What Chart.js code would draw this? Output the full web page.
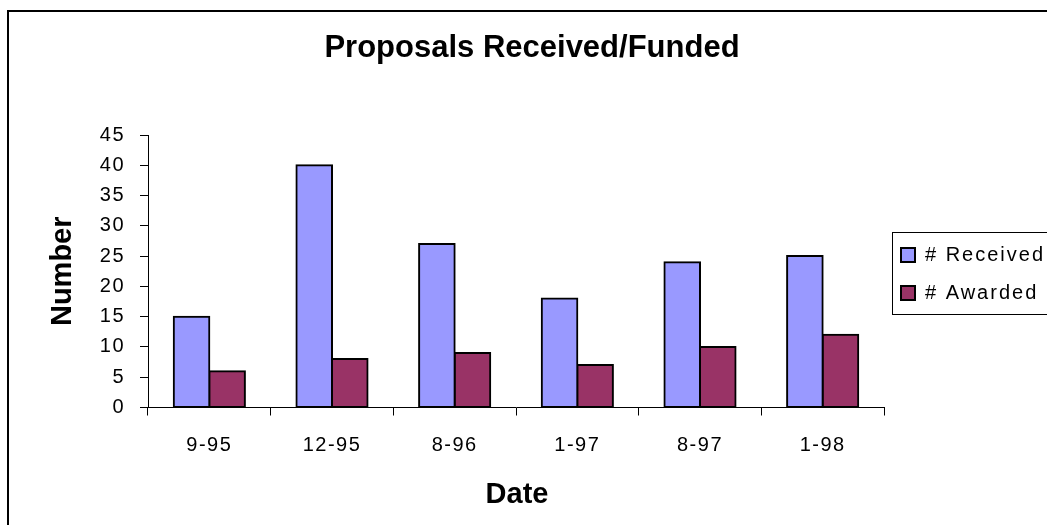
<!DOCTYPE html>
<html>
<head>
<meta charset="utf-8">
<title>Proposals Received/Funded</title>
<script src="https://cdn.jsdelivr.net/npm/chart.js@4.4.1/dist/chart.umd.min.js"></script>
<style>
  html, body { margin: 0; padding: 0; background: #fff; }
  #wrap { position: relative; width: 1047px; height: 525px; }
</style>
</head>
<body>
<div id="wrap"><canvas id="proposalsChart"></canvas></div>
<script>
const dates = ['9-95', '12-95', '8-96', '1-97', '8-97', '1-98'];
const received = [15, 40, 27, 18, 24, 25];
const awarded = [6, 8, 9, 7, 10, 12];
const yTicks = [0, 5, 10, 15, 20, 25, 30, 35, 40, 45];

const FONT = "'Liberation Sans', Arial, sans-serif";

// frame, titles and the boxed legend on the right
const decor = {
    id: 'decor',
    beforeDraw(chart) {
        chart.ctx.letterSpacing = '1.5px';
    },
    afterDraw(chart) {
        const ctx = chart.ctx;
        const area = chart.chartArea;
        ctx.save();
        ctx.letterSpacing = '0px';

        // outer border
        ctx.strokeStyle = '#000';
        ctx.lineWidth = 2;
        ctx.strokeRect(8, 11, 1100, 600);

        ctx.fillStyle = '#000';
        ctx.textAlign = 'center';
        ctx.textBaseline = 'middle';
        ctx.font = 'bold 31px ' + FONT;
        ctx.fillText('Proposals Received/Funded', 532, 48);

        ctx.font = 'bold 29px ' + FONT;
        ctx.fillText('Date', 517, 495);

        ctx.save();
        ctx.translate(63, (area.top + area.bottom) / 2);
        ctx.rotate(-Math.PI / 2);
        ctx.fillText('Number', 0, 0);
        ctx.restore();

        // legend
        ctx.lineWidth = 1;
        ctx.strokeStyle = '#000';
        ctx.strokeRect(892.5, 232.5, 200, 82);
        ctx.font = '20px ' + FONT;
        ctx.letterSpacing = '2px';
        ctx.textAlign = 'left';
        const rows = [255, 293];
        chart.data.datasets.forEach((ds, i) => {
            const y = rows[i];
            ctx.fillStyle = ds.backgroundColor;
            ctx.fillRect(901, y - 7, 14, 14);
            ctx.lineWidth = 2;
            ctx.strokeRect(901, y - 7, 14, 14);
            ctx.fillStyle = '#000';
            ctx.fillText(ds.label, 925, y);
        });
        ctx.restore();
    }
};

new Chart(document.getElementById('proposalsChart'), {
    type: 'bar',
    data: {
        labels: dates,
        datasets: [
            { label: '# Received', data: received, backgroundColor: '#9999FF' },
            { label: '# Awarded', data: awarded, backgroundColor: '#993366' }
        ]
    },
    options: {
        responsive: true,
        maintainAspectRatio: false,
        animation: false,
        devicePixelRatio: 1,
        layout: { padding: { top: 135, left: 0, right: 163, bottom: 0 } },
        datasets: {
            bar: {
                categoryPercentage: 0.58,
                barPercentage: 1,
                borderColor: '#000',
                borderWidth: 2,
                borderSkipped: false,
                inflateAmount: 1
            }
        },
        plugins: { legend: { display: false }, title: { display: false }, tooltip: { enabled: false } },
        scales: {
            x: {
                grid: { offset: true, drawOnChartArea: false, drawTicks: true, tickLength: 8, color: '#000' },
                border: { display: true, color: '#000', width: 1 },
                ticks: { color: '#000', padding: 18, maxRotation: 0, font: { family: FONT, size: 20 } },
                afterFit(scale) { scale.height = 117.5; }
            },
            y: {
                min: 0,
                max: 45,
                afterBuildTicks(scale) { scale.ticks = yTicks.map(v => ({ value: v })); },
                grid: { drawOnChartArea: false, drawTicks: true, tickLength: 8, color: '#000' },
                border: { display: true, color: '#000', width: 1 },
                ticks: { color: '#000', padding: 15, font: { family: FONT, size: 20 } },
                afterFit(scale) { scale.width = 148; }
            }
        }
    },
    plugins: [decor]
});
</script>
</body>
</html>
